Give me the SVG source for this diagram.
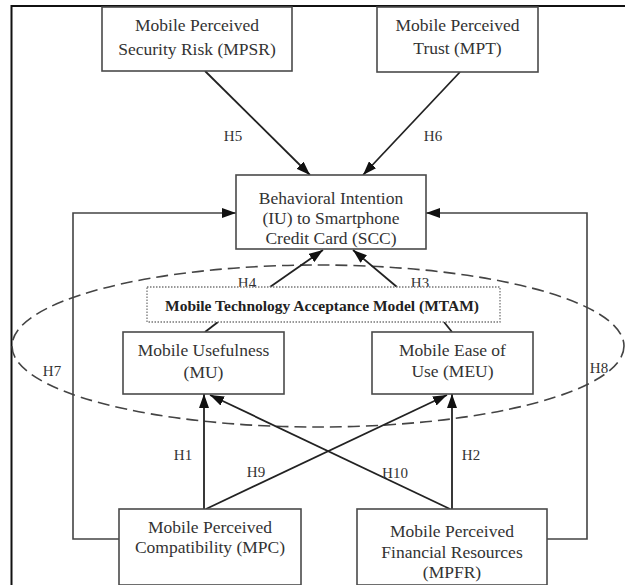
<svg xmlns="http://www.w3.org/2000/svg" width="625" height="585" viewBox="0 0 625 585" font-family="'Liberation Serif', 'Times New Roman', Times, serif">
<style>
.box{fill:#fff;stroke:#4a4a4a;stroke-width:1.6}
text{font-family:"Liberation Serif","Times New Roman",Times,serif}
.t{font-size:17.5px;fill:#333;text-anchor:middle}
.h{font-size:15px;fill:#333;text-anchor:middle}
.b{font-size:15.5px;font-weight:bold;fill:#222;text-anchor:middle}
.ln{fill:none;stroke:#222;stroke-width:1.8}
.fb{fill:none;stroke:#444;stroke-width:1.6}
</style>
<defs>
<marker id="ah" viewBox="0 0 14 10" refX="14" refY="5" markerWidth="14" markerHeight="10" markerUnits="userSpaceOnUse" orient="auto">
<path d="M0,0 L14,5 L0,10 Z" fill="#111"/>
</marker>
</defs>
<rect width="625" height="585" fill="#fff"/>
<path d="M11.5,585 V6 H625" fill="none" stroke="#111" stroke-width="2"/>
<ellipse id="mtam-ellipse" cx="318" cy="346" rx="306" ry="81" fill="none" stroke="#444" stroke-width="1.6" stroke-dasharray="12 6"/>
<g id="connectors">
<line class="ln" x1="205" y1="71" x2="310" y2="175" marker-end="url(#ah)"/>
<line class="ln" x1="460" y1="72" x2="363" y2="175" marker-end="url(#ah)"/>
<line class="ln" x1="270" y1="287" x2="323" y2="250" marker-end="url(#ah)"/>
<line class="ln" x1="397" y1="287" x2="353" y2="250" marker-end="url(#ah)"/>
<line class="ln" x1="218" y1="322" x2="205" y2="332"/>
<line class="ln" x1="444" y1="322" x2="452" y2="332"/>
<path class="fb" d="M119,539 H73 V213 H236" marker-end="url(#ah)"/>
<path class="fb" d="M547,539 H587 V213 H426" marker-end="url(#ah)"/>
<line class="ln" x1="204" y1="509" x2="204" y2="394" marker-end="url(#ah)"/>
<line class="ln" x1="452" y1="509" x2="452" y2="394" marker-end="url(#ah)"/>
<line class="ln" x1="206" y1="509" x2="447" y2="395" marker-end="url(#ah)"/>
<line class="ln" x1="450" y1="509" x2="210" y2="395" marker-end="url(#ah)"/>
<text class="h" x="233" y="141">H5</text>
<text class="h" x="433" y="141">H6</text>
<text class="h" x="247" y="288">H4</text>
<text class="h" x="420" y="288">H3</text>
<text class="h" x="52" y="376">H7</text>
<text class="h" x="599" y="373">H8</text>
<text class="h" x="183" y="460">H1</text>
<text class="h" x="471" y="460">H2</text>
<text class="h" x="256" y="477">H9</text>
<text class="h" x="395" y="478">H10</text>
</g>
<g id="mpsr">
<rect class="box" x="102" y="7" width="190" height="64"/>
<text class="t" x="197" y="31">Mobile Perceived</text>
<text class="t" x="197" y="55">Security Risk (MPSR)</text>
</g>
<g id="mpt">
<rect class="box" x="377" y="7" width="161" height="65"/>
<text class="t" x="457.5" y="31">Mobile Perceived</text>
<text class="t" x="457.5" y="54">Trust (MPT)</text>
</g>
<g id="bi">
<rect class="box" x="236" y="175" width="190" height="74"/>
<text class="t" x="331" y="204">Behavioral Intention</text>
<text class="t" x="331" y="224">(IU) to Smartphone</text>
<text class="t" x="331" y="244">Credit Card (SCC)</text>
</g>
<g id="mtam">
<rect x="147" y="287" width="353" height="35" fill="#fff" stroke="#777" stroke-width="1.3" stroke-dasharray="1.5 1.5"/>
<text class="b" x="322" y="311">Mobile Technology Acceptance Model (MTAM)</text>
</g>
<g id="mu">
<rect class="box" x="123" y="332" width="161" height="62"/>
<text class="t" x="203.5" y="356">Mobile Usefulness</text>
<text class="t" x="203.5" y="378">(MU)</text>
</g>
<g id="meu">
<rect class="box" x="372" y="332" width="161" height="62"/>
<text class="t" x="452.5" y="356">Mobile Ease of</text>
<text class="t" x="452.5" y="377">Use (MEU)</text>
</g>
<g id="mpc">
<rect class="box" x="119" y="509" width="182" height="76"/>
<text class="t" x="210" y="533">Mobile Perceived</text>
<text class="t" x="210" y="553">Compatibility (MPC)</text>
</g>
<g id="mpfr">
<rect class="box" x="357" y="509" width="190" height="76"/>
<text class="t" x="452" y="537">Mobile Perceived</text>
<text class="t" x="452" y="558">Financial Resources</text>
<text class="t" x="452" y="578">(MPFR)</text>
</g>
</svg>
